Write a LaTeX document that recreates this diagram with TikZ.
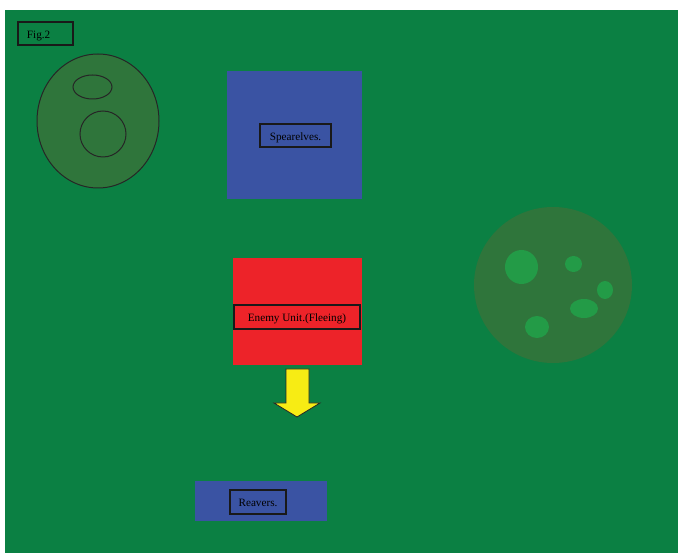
\documentclass[tikz,border=0pt]{standalone}
\usepackage{fontspec}
\setmainfont{Liberation Serif}
\usepackage{xcolor}
\definecolor{fieldgreen}{RGB}{11,128,67}
\definecolor{hillgreen}{RGB}{47,117,59}
\definecolor{spotgreen}{RGB}{35,155,71}
\definecolor{unitblue}{RGB}{58,83,163}
\definecolor{unitred}{RGB}{237,35,41}
\definecolor{moveyellow}{RGB}{247,236,20}
\usetikzlibrary{positioning,shapes.geometric}
\tikzset{
  block/.style ={rectangle, inner sep=0pt, outer sep=0pt},
  blueblock/.style={block, fill=unitblue},
  redblock/.style ={block, fill=unitred},
  tag/.style   ={rectangle, draw=black!90, line width=1.1pt, inner sep=0pt, outer sep=0pt,
                 text height=10pt, text depth=0pt, font=\fontsize{11.2}{13}\selectfont},
  hill/.style  ={ellipse, fill=hillgreen, inner sep=0pt, outer sep=0pt},
  ring/.style  ={ellipse, draw=black!85, line width=1pt, inner sep=0pt},
  spot/.style  ={ellipse, fill=spotgreen, inner sep=0pt},
}

\begin{document}
\begin{tikzpicture}[x=1pt, y=-1pt]
  \useasboundingbox (0,0) rectangle (678,553);
  \fill[fieldgreen] (5,10) rectangle (678,553);
  % label
  \node[tag, minimum width=55pt, minimum height=23pt, text width=37pt, align=left] (fig) at (45.5,33.5) {Fig.2};
  % hill on the left
  \node[hill, draw=black!85, line width=1pt, minimum width=122pt, minimum height=134pt] (lhill) at (98,121) {};
  \node[ring, minimum width=39pt, minimum height=24pt] (lpeak) at (92.5,87) {};
  \node[ring, minimum width=46pt, minimum height=46pt] (lpit) at (103,134) {};
  % units
  \node[blueblock, minimum width=135pt, minimum height=128pt] (spear) at (294.5,135) {};
  \node[tag, minimum width=71pt, minimum height=23pt] (spearlbl) at (295.5,135.5) {Spearelves.};
  \node[redblock, minimum width=129pt, minimum height=107pt] (enemy) at (297.5,311.5) {};
  \node[tag, minimum width=126pt, minimum height=24pt] (enemylbl) at (297,317) {Enemy Unit.(Fleeing)};
  \node[blueblock, minimum width=132pt, minimum height=40pt] (reav) at (261,501) {};
  \node[tag, minimum width=56pt, minimum height=24pt] (reavlbl) at (258,502) {Reavers.};
  % direction of flight
  \draw[fill=moveyellow, draw=black!85, line width=0.8pt, line join=miter]
    (286,369) -- (309,369) -- (309,403) -- (320,403) -- (297,417) -- (274,403) -- (286,403) -- cycle;
  % wood on the right
  \node[hill, minimum width=158pt, minimum height=156pt] (rwood) at (553,285) {};
  \node[spot, minimum width=33pt, minimum height=34pt] (s1) at (521.5,267) {};
  \node[spot, minimum width=17pt, minimum height=16pt] (s2) at (573.5,264) {};
  \node[spot, minimum width=16pt, minimum height=18pt] (s3) at (605,290) {};
  \node[spot, minimum width=28pt, minimum height=19pt] (s4) at (584,308.5) {};
  \node[spot, minimum width=24pt, minimum height=22pt] (s5) at (537,327) {};
\end{tikzpicture}
\end{document}
